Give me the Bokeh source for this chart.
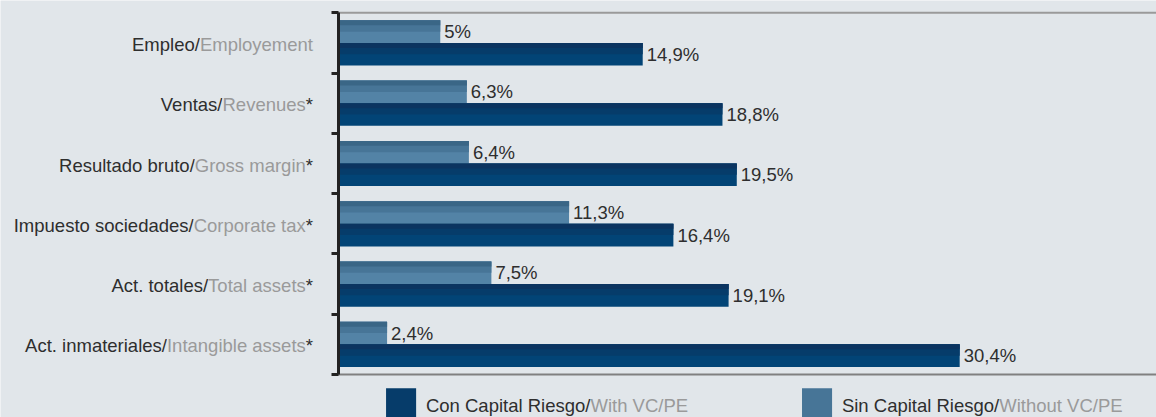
from bokeh.plotting import figure
from bokeh.models import (ColumnDataSource, LabelSet, Label, Range1d, FixedTicker,
                          BoxAnnotation, LinearAxis)
from bokeh.core.properties import value
from bokeh.embed import file_html
from bokeh.resources import INLINE

# ---- data ----
es_parts = ["Empleo/", "Ventas/", "Resultado bruto/", "Impuesto sociedades/",
            "Act. totales/", "Act. inmateriales/"]
en_parts = ["Employement", "Revenues", "Gross margin", "Corporate tax",
            "Total assets", "Intangible assets"]
stars = ["", "*", "*", "*", "*", "*"]
con_vc = [14.9, 18.8, 19.5, 16.4, 19.1, 30.4]   # Con Capital Riesgo / With VC/PE
sin_vc = [5.0, 6.3, 6.4, 11.3, 7.5, 2.4]        # Sin Capital Riesgo / Without VC/PE
legend_es = ["Con Capital Riesgo/", "Sin Capital Riesgo/"]
legend_en = ["With VC/PE", "Without VC/PE"]

BG = "#e1e6ea"
DARK_TXT = "#2e2e2e"
GREY_TXT = "#9a9a9a"
# shading: full bar colour, then darker overlays from the top edge
CON_SHADES = ["#024476", "#063c6a", "#0b3460"]
SIN_SHADES = ["#5383a6", "#477597", "#3a6686"]
SHADE_FRACS = [1.0, 0.5, 0.22]
FONT_NAME = "Liberation Sans"
FONT = value(FONT_NAME)
FS = "18.5px"

def pct(v):
    return f"{v:g}".replace(".", ",") + "%"

n = len(es_parts)
idx = list(range(n))
BAR_H = 0.375
src = ColumnDataSource(dict(
    y=[i + 0.5 for i in idx],
    full=[a + b + c for a, b, c in zip(es_parts, en_parts, stars)],
    suffix=[b + c for b, c in zip(en_parts, stars)],
    zero=[0] * n,
    sin=sin_vc, con=con_vc,
    y_sin=[i + 0.5 - BAR_H / 2 for i in idx], y_con=[i + 0.5 + BAR_H / 2 for i in idx],
    sin_lbl=[pct(v) for v in sin_vc], con_lbl=[pct(v) for v in con_vc],
))
star_rows = [i for i in idx if stars[i]]
star_src = ColumnDataSource(dict(
    y=[i + 0.5 for i in star_rows], zero=[0] * len(star_rows),
    star=[stars[i] for i in star_rows]))

W, H = 1156, 417
X0_PX = 337.5   # pixel of value 0
PX_X = 20.45    # px per percent
Y0_PX = 12.3    # pixel of the top of the first category
PX_Y = 60.28    # px per category
X_START = -X0_PX / PX_X
X_END = (W - X0_PX) / PX_X
Y_TOP = -Y0_PX / PX_Y
Y_BOT = (H - Y0_PX) / PX_Y

p = figure(width=W, height=H, output_backend="svg", toolbar_location=None,
           x_range=Range1d(X_START, X_END), y_range=Range1d(Y_BOT, Y_TOP),
           x_axis_location=None, y_axis_location=None,
           min_border=0)
p.background_fill_color = BG
p.border_fill_color = BG
p.outline_line_color = None
p.grid.visible = False

ax = LinearAxis(fixed_location=0, bounds=(0, n),
                ticker=FixedTicker(ticks=list(range(n + 1))))
ax.major_label_text_font_size = "0px"
ax.major_label_standoff = 0
ax.major_tick_in = 0
ax.major_tick_out = 7
ax.major_tick_line_width = 3
ax.major_tick_line_color = "#222222"
ax.axis_line_width = 3
ax.axis_line_color = "#222222"
ax.minor_tick_line_color = None
p.add_layout(ax, "left")

# top / bottom rules of the plot area
p.segment(x0=[0, 0], x1=[X_END, X_END], y0=[0, n], y1=[0, n],
          line_color=["#9a9a9a", "#808080"], line_width=2)

# bars: full bar, then darker overlays anchored at the bar's top edge
for col_y, col_v, shades in (("y_sin", "sin", SIN_SHADES), ("y_con", "con", CON_SHADES)):
    ys = src.data[col_y]
    for frac, color in zip(SHADE_FRACS, shades):
        bsrc = ColumnDataSource(dict(
            y=[yc - BAR_H / 2 + BAR_H * frac / 2 for yc in ys],
            right=src.data[col_v]))
        p.hbar(y="y", left=0, right="right", height=BAR_H * frac,
               source=bsrc, fill_color=color, line_color=None)

p.text(x="sin", y="y_sin", text="sin_lbl", source=src, x_offset=4,
       text_baseline="middle", text_align="left", text_font=FONT,
       text_font_size=FS, text_color=DARK_TXT)
p.text(x="con", y="y_con", text="con_lbl", source=src, x_offset=4,
       text_baseline="middle", text_align="left", text_font=FONT,
       text_font_size=FS, text_color=DARK_TXT)

common = dict(x="zero", y="y", x_offset=-25, y_offset=-1.5,
              text_align="right", text_baseline="middle",
              text_font=FONT, text_font_size=FS)
p.add_layout(LabelSet(text="full", text_color=DARK_TXT, source=src, **common))
p.add_layout(LabelSet(text="suffix", text_color=GREY_TXT, source=src,
                      background_fill_color=BG, **common))
p.add_layout(LabelSet(text="star", text_color=DARK_TXT, source=star_src,
                      background_fill_color=BG, **common))

# legend
for k, (col, x0) in enumerate([(CON_SHADES[1], 2.35), (SIN_SHADES[1], 22.69)]):
    p.add_layout(BoxAnnotation(left=x0, right=x0 + 1.47, top=6.23, bottom=Y_BOT + 0.2,
                               fill_color=col, fill_alpha=1, line_color=None))
    p.add_layout(Label(x=x0 + 1.95, y=6.51, text=legend_es[k] + legend_en[k],
                       text_color=GREY_TXT, text_font=FONT_NAME, text_font_size=FS,
                       text_baseline="middle", text_align="left"))
    p.add_layout(Label(x=x0 + 1.95, y=6.51, text=legend_es[k],
                       text_color=DARK_TXT, text_font=FONT_NAME, text_font_size=FS,
                       text_baseline="middle", text_align="left",
                       background_fill_color=BG))

open("out.html", "w").write(file_html(p, INLINE))
